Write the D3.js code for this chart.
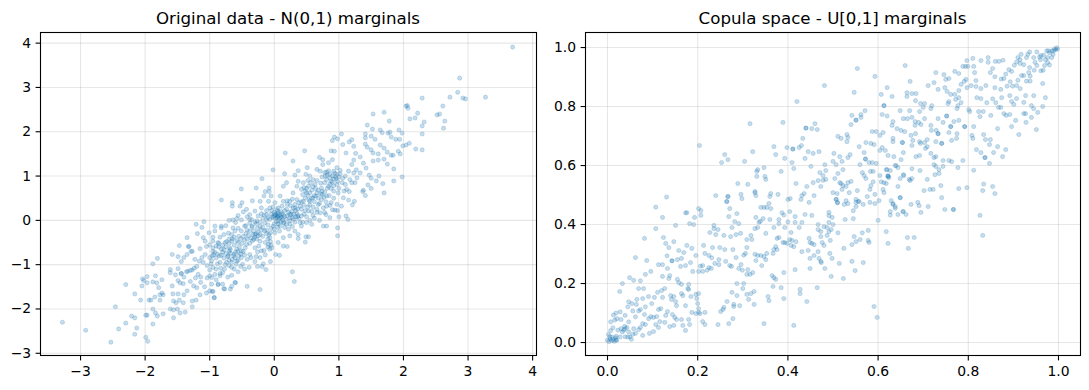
<!DOCTYPE html>
<html>
<head>
<meta charset="utf-8">
<script src="https://cdn.jsdelivr.net/npm/d3@7"></script>
<style>
body { margin: 0; background: #fff; }
text { font-family: "DejaVu Sans", sans-serif; fill: #000; }
</style>
</head>
<body>
<div id="chart-area"></div>
<script>
// Titles and ticks
var titles = ["Original data - N(0,1) marginals", "Copula space - U[0,1] marginals"];
var origXTicks = [-3, -2, -1, 0, 1, 2, 3, 4];
var origYTicks = [-3, -2, -1, 0, 1, 2, 3, 4];
var copulaTicks = [0, 0.2, 0.4, 0.6, 0.8, 1];

// Points, [x, y]
var origPoints = [
[1.04,1.95],[.93,1.88],[.98,1.84],[.90,1.80],[1.20,1.82],[1.16,1.77],[1.06,1.71],[1.23,1.67],[.47,1.57],[.17,1.52],[.88,1.57],[.93,1.56],[1.11,1.52],[1.26,1.51],[.70,1.42],[.75,1.37],[.29,1.34],[1.23,1.36],[.90,1.37],[.84,1.30],[.75,1.26],[1.20,1.26],[.51,1.19],[.97,1.19],[-.02,1.14],[.37,1.12],[.16,1.05],[.32,1.02],[.66,1.15],[.71,1.11],[.81,1.09],[.92,1.11],[1.02,1.13],[1.15,1.11],[1.23,1.07],[.49,1.04],[.55,1.00],[.79,1.00],[.86,1.04],[.97,1.04],[1.28,.96],[-.19,.94],[.37,.88],[.45,.85],[.60,.92],[.81,.92],[.92,.94],[1.17,.92],[1.25,.85],[.19,.85],[.14,.77],[-.51,.71],[-.28,.73],[-.08,.73],[-.14,.65],[-.08,.65],[-.05,.55],[.09,.55],[.35,.77],[.42,.70],[.53,.77],[.63,.81],[.73,.73],[.84,.77],[.97,.81],[1.10,.81],[1.20,.85],[.92,.66],[.99,.62],[1.16,.65],[.29,.62],[.50,.62],[.66,.62],[.60,.51],[.73,.47],[.81,.55],[1.07,.51],[1.15,.46],[1.24,.43],[1.21,.35],
[-.82,.46],[-.65,.40],[-.50,.40],[-.34,.44],[-.22,.43],[-.16,.55],[-.09,.43],[.01,.40],[.14,.43],[.24,.43],[.35,.47],[.45,.43],[.55,.43],[.68,.36],[.81,.32],[.97,.36],[1.04,.32],[-.65,.32],[-.53,.32],[-.43,.25],[-.30,.21],[-.20,.28],[-.07,.28],[.06,.28],[.19,.25],[.32,.28],[.42,.25],[.53,.21],[.66,.25],[.94,.23],[-.48,.19],[-.56,.11],[-.38,.13],[-.12,.13],[.01,.13],[.06,.10],[.11,.06],[.26,.13],[.37,.11],[.60,.11],[.71,.17],[.80,.13],[.86,.06],[1.00,.08],[1.11,.10],[1.14,.02],[-1.09,-.03],[-.70,0],[-.64,.01],[-.58,.04],[-.51,.01],[-.38,.02],[-.27,-.01],[-.07,.02],[.04,.06],[.14,-.05],[.24,-.01],[.40,-.05],[.50,-.05],[.58,-.09],[.76,-.13],[.81,-.13],[.98,-.17],[.98,-.35],
[-.92,-.13],[-.82,-.13],[-.82,-.17],[-.64,-.17],[-.46,-.13],[-.35,-.13],[-.22,-.13],[-.02,-.13],[.09,-.13],[.19,-.09],[.32,-.24],[.42,-.13],[-1.01,-.28],[-.92,-.24],[-.71,-.29],[-.66,-.32],[-.61,-.24],[-.51,-.24],[-.38,-.24],[-.30,-.32],[-.25,-.35],[-.15,-.24],[-.07,-.39],[.01,-.28],[.14,-.39],[.24,-.35],[.37,-.32],[.37,-.41],[.49,-.37],[.53,-.37],[.48,-.49],[-1.10,-.39],[-1.07,-.47],[-.95,-.47],[-.87,-.50],[-.76,-.50],[-.66,-.47],[-.56,-.50],[-.43,-.54],[-.32,-.43],[-.22,-.47],[-.09,-.54],[-.04,-.62],[.06,-.50],[.14,-.58],[.20,-.59],[-1.33,-.59],[-1.15,-.64],[-1.05,-.59],[-.95,-.62],[-.82,-.65],[-.69,-.62],[-.58,-.65],[-.51,-.69],[-.38,-.77],[-.26,-.71],[-.20,-.69],[-.07,-.65],[.02,-.77],[.08,-.79],[-1.29,-.70],[-1.07,-.77],[-.96,-.80],[-.82,-.79],[-.71,-.80],[-.61,-.84],[-.51,-.84],[-.36,-.84],[-1.23,-.88],[-1.10,-.95],[-.97,-.91],[-.84,-.95],[-.74,-.95],[-.59,-.99],[-.49,-.99],[-.39,-1.06],[-.30,-.93],[-.17,-.98],[-.06,-.93],[-.26,-1.04],[-.19,-1.04],[-.13,-1.11],[.28,-1.16],[.31,-1.38],
[-.95,-1.06],[-.77,-1.10],[-.66,-1.06],[-.84,-1.25],[-.66,-1.24],[-.97,-1.29],[-.97,-1.44],[-.87,-1.44],[-.80,-1.44],[-.61,-1.40],[-.66,-1.49],[-.42,-1.49],[-.78,-1.54],[-.22,-1.56],[-.96,-1.60],[-.93,-1.74],
// upper right tail
[3.69,3.91],[2.87,3.21],[2.84,2.89],[2.72,2.78],[2.92,2.76],[2.96,2.74],[3.27,2.78],[2.29,2.76],[2.61,2.58],[2.04,2.58],[2.07,2.53],[2.06,2.59],[2.22,2.42],[2.18,2.31],[2.10,2.29],[2.52,2.38],[2.56,2.40],[2.64,2.24],[2.32,2.22],[2.29,2.13],[2.62,2.08],[2.29,1.95],[1.70,2.44],[1.53,2.40],[1.78,2.24],[1.44,2.15],[1.52,2.06],[1.64,2.04],[1.67,1.98],[1.76,1.97],[1.79,1.99],[1.93,2.04],[1.98,1.97],[1.41,1.95],[1.41,1.86],[1.50,1.90],[1.56,1.83],[1.88,1.83],[1.94,1.83],[1.81,1.88],[2.09,1.74],[2.04,1.70],[1.99,1.68],[2.19,1.61],[2.29,1.59],[1.41,1.72],[1.44,1.65],[1.64,1.70],[1.70,1.63],[1.75,1.54],[1.92,1.56],[1.95,1.50],[1.81,1.47],[1.84,1.47],[1.50,1.59],[1.61,1.50],[1.53,1.52],[1.33,1.43],[1.70,1.38],[1.75,1.27],[1.53,1.34],[1.61,1.36],[1.85,1.16],[1.62,1.00],[1.98,.98],[1.85,.89],[1.70,.62],[1.68,.83],[1.58,.89],[1.41,.56],[1.33,1.07],[1.27,1.14],[1.42,1.18],[1.38,1.29],[1.47,1.02],[1.50,.95],[1.45,.80],[1.38,.68],[1.50,.72],[1.37,.65],
// lower left tail
[-3.28,-2.30],[-2.92,-2.48],[-2.53,-2.75],[-2.41,-2.45],[-2.46,-1.95],[-2.30,-2.32],[-2.30,-1.45],[-2.21,-2.16],[-2.16,-2.20],[-2.13,-2.43],[-2.16,-2.57],[-1.99,-2.64],[-1.96,-2.73],[-1.88,-2.34],[-1.99,-2.14],[-1.97,-2.14],[-1.88,-2.00],[-1.84,-2.09],[-1.81,-2.16],[-1.72,-2.11],[-1.56,-2.20],[-2.16,-1.66],[-2.07,-1.80],[-2.05,-1.48],[-2.04,-1.32],[-2.02,-1.36],[-1.97,-1.27],[-1.97,-1.41],[-1.94,-1.80],[-1.91,-1.80],[-1.88,-1.39],[-1.82,-1.41],[-1.84,-1.25],[-1.88,-.98],[-1.81,-.86],[-1.74,-1.34],[-1.79,-1.52],[-1.85,-1.73],[-1.74,-1.64],[-1.77,-1.68],[-1.72,-1.68],[-1.77,-1.80],[-1.58,-1.48],[-1.57,-1.66],[-1.49,-1.66],[-1.61,-2.00],[-1.56,-2.02],[-1.50,-2.00],[-1.46,-2.09],[-1.38,-2.07],[-1.27,-1.95],[-1.56,-1.82],[-1.52,-1.86],[-1.47,-1.80],[-1.41,-1.86],[-1.27,-1.82],[-1.21,-1.80],[-1.40,-1.68],[-1.35,-1.59],[-1.15,-1.68],[-1.05,-1.64],[-1.00,-1.59],[-.93,-1.75],[-.95,-1.61],[-1.49,-1.36],[-1.46,-1.41],[-1.41,-1.43],[-1.61,-1.11],[-1.61,-1.18],[-1.53,-1.23],[-1.49,-1.09],[-1.44,-1.20],[-1.49,-.82],[-1.58,-.77],[-1.44,-.93],[-1.40,-.84],[-1.47,-.57],[-1.35,-.39],[-1.32,-.59],[-1.27,-.70],[-1.35,-.77],[-1.21,-.09],[-1.12,-.16],[-1.19,-.30],[-.60,-1.41],[-.68,-1.55],[-.77,-1.55],[-.87,-1.45],
// dense band along the diagonal
[0,.10],[.03,.12],[.05,.08],[.02,.05],[.08,.04],[.06,-.02],[.1,-.03],[.13,.02],[.03,-.03],[.09,.12],[.15,-.06],[.12,.15],[.18,.02],[.16,.09],[-.03,.08],[-.05,.14],[0,.18],[.04,.24],[.1,.2],[.16,.22],[.22,.18],[.27,.2],[.3,.14],[.33,.08],[.28,.06],[.3,.02],[.24,.05],[.35,.16],[.38,.04],[.33,.22],[.29,.28],[.25,.33],[.2,.36],[.32,.36],[.38,.4],[.55,.35],[.58,.5],[.62,.42],[.65,.55],[.6,.3],[.7,.38],[.74,.58],[.77,.52],[.68,.68],[.64,.72],[.58,.68],[.52,.56],[.48,.66],[.55,.62],[.44,.58],[.5,.72],[.46,.74],[.56,.85],[.6,.76],[.52,.9],[.82,1.02],[.86,.96],[.9,1],[.94,1.06],[.95,.98],[.88,.88],[1,.98],[1.02,1.05],[1.06,.95],[.84,1.12],[.78,.85],[.98,.88],[1.05,.85],[1.12,.7],[.88,.72],[.78,1.08],[.74,.98],[1.1,1],[.92,.78],[.85,.56],[1.08,.66],[1,.72],
[-.32,-.24],[-.28,-.3],[-.25,-.27],[-.3,-.38],[-.27,-.42],[-.22,-.32],[-.33,-.32],[-.36,-.4],[-.4,-.34],[-.2,-.22],[-.18,-.36],[-.12,-.3],[-.08,-.32],[-.1,-.42],[-.06,-.48],[-.05,-.56],[-.1,-.6],[-.14,-.5],[-.42,-.22],[-.44,-.3],[-.34,-.15],[-.28,-.08],[-.38,-.06],[-.46,-.44],[-.5,-.52],[-.72,-.82],[-.68,-.74],[-.65,-.88],[-.63,-.8],[-.6,-.72],[-.58,-.92],[-.7,-.7],[-.75,-.75],[-.78,-.85],[-.55,-.8],[-.52,-.76],[-.66,-.95],[-.8,-.72],[-.85,-.8],[-.9,-.85],[-.92,-.72],[-.75,-.6],[-.7,-.52],[-.62,-.56],[-.54,-.6],[-.48,-.7],[-.45,-.62],[-.88,-.98],[-.83,-1.08],[-.95,-.7],[-.86,-.6],[-.98,-.98],[-.7,-1.02],[-.62,-1.1],[-.8,-1.18],[-.84,-1.2],[-1.34,-1.15],[-1.3,-1.13],[-1.27,-1.12],[-1.36,-1.16],[-1.24,-1.08],[-1.2,-1.04],[-1.14,-1.28],[-1.18,-1.22],[-1.22,-1.3],[-1.3,-1.38],[-1.14,-1.4],[-1,-1.25],[-1.04,-1.3],[-.92,-1.22],[-1.4,-1.28],[-1.44,-1.2],[-1.25,-1.48],[-1.2,-1.52],[-1.08,-1.5],[-.9,-1.34],
[-.25,.1],[-.18,.05],[-.12,.02],[-.15,-.06],[-.1,-.1],[-.05,-.18],[0,-.2],[.05,-.15],[.08,-.24],[.22,-.2],[.28,-.14],[.44,-.04],[.55,0],[.5,.08],[.46,.14],[.62,.05],[.7,0],[.66,.18],[.58,.2],[.76,.28],[.88,.4],[.92,.5],[.78,.18],[.98,.22],[-.35,.02],[-.42,.08],[-.2,.15],[-.12,.22],[-.02,.3],[-.44,-.12],[-.56,-.18],[-.6,-.05],[-.75,-.12],[-.78,-.32],[-.84,-.38],[-1,-.55],[-.95,-.38],[-.65,-.42],[-.55,-.36],[.12,.32],[.2,.44],[.28,.48],
// second pass over the darkest parts of the band
[-.02,.06],[.02,.14],[.06,.16],[.1,.08],[.14,.12],[.2,.1],[.24,.14],[.06,.2],[-.04,.22],[-.1,.06],[-.16,.12],[-.22,-.04],[-.3,-.04],[-.26,-.18],[-.18,-.16],[-.12,-.22],[-.06,-.28],[.0,-.08],[.06,-.08],[.16,-.16],[.24,-.08],[.32,-.04],[.36,.08],[.42,.1],[.48,.22],[.52,.3],[.46,.34],[.4,.32],[.36,.26],[.42,.42],[.48,.5],[.54,.46],[.62,.56],[.68,.5],[.72,.6],[.78,.64],[.82,.72],[.86,.82],[.9,.86],[.96,.94],[.72,.84],[.66,.9],[.74,.66],[.8,.42],[.86,.34],[.9,.24],
[-.34,-.46],[-.38,-.52],[-.42,-.42],[-.48,-.36],[-.52,-.42],[-.58,-.46],[-.62,-.38],[-.7,-.42],[-.74,-.48],[-.8,-.56],[-.86,-.52],[-.9,-.58],[-.94,-.78],[-.88,-.76],[-.78,-.66],[-.68,-.66],[-.62,-.76],[-.56,-.7],[-.46,-.78],[-.42,-.88],[-.3,-.62],[-.24,-.58],[-.16,-.68],[-.14,-.78],[-.22,-.84],[-.28,-.82],[-.56,-.9],[-.7,-.9],[-.76,-1.0],[-.9,-1.1],[-1.0,-1.12],[-1.04,-1.02],[-1.0,-.84],[-1.12,-.84],[-1.16,-.92],[-.52,-1.04],[-.46,-1.1],[-.56,-1.16],[-.72,-1.28]
];

// Points, [u, v]
var copulaPoints = [
[0,.008],[.003,.003],[.006,.012],[.009,.006],[.012,.01],[.015,.004],[.005,.02],[.01,.018],[.02,.008],[.018,.016],[.002,.027],[.007,.04],[.012,.05],[.007,.07],[.013,.093],[.016,.076],[.019,.10],[.021,.081],[.028,.104],[.027,.173],[.033,.20],[.03,.078],[.039,.092],[.023,.042],[.03,.047],[.036,.042],[.039,.047],[.043,.051],[.038,.055],[.033,.036],[.028,.019],[.039,.019],[.019,.008],[.05,.019],[.053,.011],[.056,.028],[.062,.031],[.058,.047],[.047,.07],[.047,.138],[.045,.121],[.054,.132],[.056,.107],[.062,.087],[.065,.146],[.064,.129],[.069,.107],[.073,.112],[.078,.149],[.084,.121],[.082,.353],[.062,.288],[.049,.22],[.058,.211],[.073,.209],[.069,.183],[.08,.183],[.084,.231],[.087,.278],[.096,.241],[.107,.459],[.122,.424],[.131,.493],[.107,.386],[.151,.397],[.124,.356],[.129,.336],[.136,.322],[.147,.342],[.158,.312],[.169,.305],[.176,.329],[.187,.319],[.113,.264],[.122,.264],[.133,.251],[.132,.294],[.143,.277],[.143,.277],[.155,.281],[.164,.285],[.162,.258],[.184,.271],[.173,.261],[.189,.241],[.196,.295],[.173,.44],[.176,.44],[.202,.454],[.207,.447],[.207,.431],[.193,.424],[.182,.403],[.191,.40],
[.24,.498],[.267,.495],[.265,.478],[.271,.454],[.269,.427],[.287,.437],[.282,.41],[.291,.403],[.276,.39],[.236,.397],[.236,.386],[.227,.373],[.24,.366],[.245,.383],[.258,.363],[.273,.359],[.285,.366],[.295,.37],[.213,.329],[.233,.322],[.249,.322],[.26,.315],[.278,.315],[.216,.302],[.225,.295],[.231,.287],[.247,.281],[.238,.268],[.247,.264],[.262,.275],[.285,.288],[.206,.259],[.211,.261],[.225,.254],[.202,.241],[.211,.241],[.221,.245],[.23,.251],[.271,.261],[.275,.258],[.291,.251],[.296,.264],[.299,.245],[.306,.302],[.302,.296],[.309,.322],[.309,.349],[.318,.363],[.32,.349],[.336,.408],[.339,.411],[.345,.42],[.327,.386],[.333,.39],[.34,.458],[.347,.458],[.353,.458],[.358,.471],[.362,.454],[.329,.424],[.351,.37],[.369,.39],[.36,.417],[.38,.417],[.38,.403],[.387,.44],[.391,.432],[.4,.409],[.404,.444],[.393,.39],[.416,.407],[.425,.39],[.416,.427],[.438,.434],[.431,.407],[.453,.431],[.407,.373],[.38,.356],[.376,.353],[.389,.339],[.393,.339],[.398,.336],[.404,.349],[.409,.346],[.418,.342],[.407,.329],[.413,.325],[.431,.308],[.445,.312],[.447,.353],[.449,.339],[.453,.336],[.467,.383],[.473,.359],[.476,.339],[.48,.329],[.467,.308],[.458,.295],[.449,.285],[.469,.285],[.473,.275],[.449,.251],[.482,.251],[.416,.247],[.391,.237],
[.369,.315],[.376,.315],[.373,.325],[.367,.302],[.353,.302],[.34,.295],[.333,.295],[.327,.299],[.347,.291],[.351,.281],[.329,.278],[.342,.261],[.311,.247],[.322,.237],[.309,.231],[.316,.231],[.365,.227],[.369,.22],[.373,.214],[.367,.19],[.385,.186],[.427,.18],[.427,.166],[.442,.139],[.465,.186],[.391,.149],[.356,.156],[.358,.142],[.325,.173],[.318,.166],[.309,.163],[.313,.146],[.325,.129],[.302,.20],[.3,.183],[.287,.2],[.276,.17],[.287,.159],[.28,.129],[.28,.122],[.293,.125],[.265,.139],[.258,.119],[.256,.112],[.251,.105],[.278,.081],[.269,.064],[.245,.061],[.347,.064],[.413,.058],[.216,.061],[.211,.071],[.216,.102],[.202,.102],[.196,.098],[.205,.098],[.202,.115],[.187,.102],[.173,.125],[.153,.125],[.151,.139],[.164,.166],[.167,.159],[.185,.156],[.196,.163],[.198,.149],[.2,.132],[.202,.166],[.18,.18],[.18,.197],[.178,.183],[.164,.197],[.158,.203],[.155,.214],[.138,.227],[.136,.217],[.122,.224],[.127,.183],[.12,.176],[.111,.17],[.122,.153],[.14,.159],[.147,.156],[.142,.146],[.091,.156],[.104,.153],[.098,.132],[.113,.112],[.118,.115],[.133,.105],[.129,.092],[.144,.095],[.149,.085],[.153,.078],[.18,.078],[.164,.078],[.182,.061],[.167,.058],[.173,.041],[.147,.058],[.138,.054],[.127,.068],[.116,.071],[.107,.061],[.091,.081],[.096,.088],[.102,.085],[.109,.088],[.082,.095],[.078,.064],[.084,.061],[.073,.051],[.069,.044],[.102,.037],[.093,.031],[.113,.051],[.078,.024],[.047,.036],[.045,.019],[.019,.021],
// middle of the band
[.42,.817],[.316,.742],[.389,.746],[.44,.727],[.44,.727],[.46,.742],[.453,.725],[.465,.722],[.433,.692],[.204,.668],[.26,.637],[.253,.61],[.267,.62],[.322,.647],[.304,.614],[.369,.664],[.373,.637],[.398,.661],[.411,.656],[.411,.656],[.425,.661],[.43,.668],[.445,.647],[.456,.641],[.469,.647],[.393,.624],[.409,.61],[.438,.624],[.347,.593],[.333,.586],[.331,.58],[.331,.563],[.349,.563],[.351,.553],[.385,.58],[.413,.59],[.451,.597],[.289,.539],[.311,.536],[.327,.512],[.327,.508],[.329,.498],[.296,.502],[.298,.488],[.267,.495],[.264,.478],
[.378,.502],[.36,.495],[.362,.505],[.4,.485],[.405,.488],[.418,.539],[.442,.529],[.436,.505],[.431,.498],[.429,.485],[.447,.475],[.458,.498],[.456,.542],[.467,.549],[.473,.529],[.478,.55],[.484,.553],[.471,.576],[.478,.566],[.484,.583],[.482,.603],[.5,.614],[.507,.603],[.502,.641],[.515,.63],[.538,.637],[.533,.627],[.52,.614],[.511,.699],[.518,.692],[.531,.705],[.533,.695],[.531,.681],[.54,.739],[.542,.77],[.551,.754],[.551,.754],[.562,.763],[.562,.773],[.571,.786],[.587,.715],[.596,.715],[.604,.702],[.611,.712],[.609,.773],[.613,.803],[.613,.803],[.558,.664],[.573,.678],[.584,.675],[.591,.671],[.569,.644],[.604,.651],[.616,.651],[.609,.661],[.622,.634],[.635,.63],[.572,.622],[.572,.622],[.56,.603],[.58,.61],[.587,.61],[.596,.607],[.651,.62],[.638,.6],[.644,.593],[.618,.586],[.627,.583],[.565,.576],[.583,.58],[.589,.58],[.569,.566],[.604,.566],[.622,.563],[.622,.563],[.656,.569],[.649,.556],[.669,.553],[.644,.529],[.618,.539],[.613,.542],[.607,.545],[.589,.545],[.573,.556],[.584,.532],[.582,.519],[.611,.519],[.613,.508],[.593,.502],[.576,.495],[.602,.481],[.649,.491],[.649,.491],[.629,.481],[.633,.471],[.638,.461],[.656,.444],[.644,.434],[.627,.444],[.593,.471],[.582,.475],[.567,.468],[.558,.478],[.551,.475],[.551,.461],[.533,.471],[.529,.481],[.525,.468],[.507,.485],[.507,.485],[.5,.508],[.509,.505],[.536,.508],[.554,.515],[.518,.539],[.533,.542],[.54,.546],[.522,.532],[.529,.529],[.52,.519],[.504,.556],[.515,.542],[.522,.586],[.511,.573],
[.491,.441],[.491,.43],[.498,.424],[.491,.407],[.527,.417],[.545,.42],[.545,.447],[.467,.4],[.48,.393],[.487,.39],[.5,.4],[.473,.376],[.491,.376],[.487,.363],[.511,.372],[.458,.332],[.524,.319],[.547,.359],[.551,.342],[.542,.332],[.565,.372],[.578,.38],[.56,.349],[.578,.346],[.58,.339],[.6,.414],[.618,.376],[.622,.336],[.665,.356],[.667,.319],[.542,.275],[.567,.271],[.493,.302],[.498,.285],
// upper right of the band
[.996,.999],[.994,.993],[.991,.995],[.998,.995],[.989,.989],[.985,.989],[.978,.989],[.974,.989],[.98,.982],[.988,.977],[.985,.966],[.976,.966],[.961,.973],[.958,.968],[.967,.974],[.952,.985],[.936,.985],[.932,.977],[.917,.977],[.91,.966],[.915,.959],[.929,.966],[.945,.966],[.96,.959],[.971,.959],[.976,.949],[.98,.941],[.969,.939],[.966,.923],[.961,.921],[.948,.95],[.952,.939],[.936,.932],[.923,.942],[.915,.946],[.907,.951],[.902,.94],[.89,.925],[.883,.91],[.896,.919],[.946,.923],[.934,.915],[.923,.905],[.91,.889],[.918,.905],[.937,.903],[.929,.886],[.937,.886],[.965,.878],[.907,.871],[.898,.869],[.915,.861],[.886,.869],[.893,.884],[.879,.895],[.873,.893],[.877,.957],[.868,.953],[.86,.953],[.844,.966],[.844,.95],[.828,.956],[.81,.963],[.797,.956],[.788,.936],[.794,.936],[.799,.936],[.812,.936],[.854,.929],[.849,.915],[.859,.901],[.814,.915],[.77,.919],[.779,.912],[.728,.915],[.746,.908],[.757,.895],[.75,.892],[.66,.939],[.554,.929],[.593,.902],[.481,.871],[.547,.848],[.607,.841],[.62,.864],[.631,.834],[.664,.847],[.675,.844],[.684,.844],[.664,.834],[.671,.885],[.711,.871],[.724,.881],[.733,.858],[.748,.864],[.753,.851],[.761,.841],[.77,.841],[.779,.854],[.784,.875],[.791,.885],[.795,.892],[.817,.888],[.806,.871],[.797,.864],[.817,.868],[.828,.861],[.839,.871],[.859,.864],[.872,.858],[.854,.826],[.819,.83],[.841,.813],[.828,.827],[.861,.813],[.874,.83],[.892,.837],[.907,.827],[.927,.837],[.945,.837],[.971,.83],[.896,.817],[.901,.807],[.923,.814],[.94,.803],[.965,.8],[.867,.797],[.872,.797],[.879,.776],[.884,.77],[.892,.773],[.923,.776],[.927,.776],[.945,.793],[.954,.78],[.94,.763],[.928,.746],[.905,.753],[.896,.732],[.951,.722],[.912,.705],[.865,.725],[.85,.77],[.833,.783],[.823,.783],[.826,.766],[.801,.79],[.803,.783],[.775,.793],[.777,.803],[.757,.817],[.755,.81],[.784,.813],[.779,.83],[.772,.824],[.719,.803],[.717,.793],[.703,.81],[.694,.81],[.7,.797],[.683,.82],[.649,.786],[.67,.786],[.692,.783],[.62,.768],[.633,.749],[.656,.759],[.665,.759],[.675,.763],[.682,.749],[.69,.746],[.703,.759],[.733,.759],[.752,.768],[.752,.768],[.768,.749],[.779,.753],[.792,.732],[.792,.732],[.761,.732],[.761,.732],[.744,.746],
[.631,.736],[.642,.725],[.651,.719],[.659,.715],[.682,.736],[.695,.739],[.717,.736],[.733,.708],[.733,.708],[.757,.712],[.775,.708],[.812,.732],[.834,.705],[.673,.702],[.683,.708],[.729,.719],[.718,.719],[.633,.692],[.633,.681],[.654,.678],[.654,.678],[.677,.685],[.692,.681],[.694,.675],[.703,.678],[.709,.688],[.728,.681],[.741,.675],[.741,.675],[.763,.685],[.774,.692],[.808,.702],[.81,.692],[.838,.688],[.849,.688],[.847,.671],[.865,.664],[.883,.654],[.876,.63],[.856,.644],[.837,.627],[.837,.627],[.828,.644],[.818,.654],[.847,.607],[.812,.584],[.788,.617],[.777,.593],[.763,.613],[.757,.617],[.744,.597],[.744,.617],[.728,.63],[.724,.627],[.717,.641],[.705,.658],[.709,.664],[.692,.634],[.684,.63],[.656,.644],[.675,.668],[.64,.6],[.62,.586],[.724,.603],[.728,.597],[.675,.589],[.671,.549],[.675,.556],[.693,.583],[.657,.566],[.622,.566],[.624,.559],[.709,.553],[.735,.586],[.726,.569],[.735,.573],[.739,.532],[.779,.522],[.797,.525],[.834,.537],[.854,.529],[.832,.515],[.859,.505],[.741,.491],[.722,.519],[.715,.519],[.702,.515],
// lower right of the band
[.826,.431],[.832,.363],[.767,.451],[.767,.451],[.748,.451],[.711,.461],[.695,.441],[.691,.464],[.688,.475],[.673,.468],[.662,.434],[.655,.444],[.633,.468],[.638,.455],[.627,.432],[.68,.356],[.549,.244],[.523,.217],[.496,.224],[.591,.122],[.598,.085],[.514,.268],[.474,.271],[.494,.346],[.496,.383],[.51,.474],[.51,.474],[.556,.478],[.551,.485]
];

var colour = "#1f77b4";

var svg = d3.select("#chart-area")
    .append("svg")
    .attr("width", 1089)
    .attr("height", 390)
    .style("display", "block");

// Draws one panel. Scales are passed in, the axes come from d3.axis
function drawPanel(points, x, y, xTicks, yTicks, xFormat, yFormat, title) {
    var left = x.range()[0], right = x.range()[1];
    var bottom = y.range()[0], top = y.range()[1];
    var g = svg.append("g").attr("transform", "translate(0.5,0.5)");

    g.selectAll("circle")
        .data(points)
        .enter()
        .append("circle")
        .attr("cx", function (d) { return x(d[0]); })
        .attr("cy", function (d) { return y(d[1]); })
        .attr("r", 2.1)
        .attr("fill", colour)
        .attr("fill-opacity", 0.25)
        .attr("stroke", colour)
        .attr("stroke-opacity", 0.2)
        .attr("stroke-width", 1);

    // grid sits over the points, same as the original
    var xGrid = g.append("g")
        .attr("transform", "translate(0," + bottom + ")")
        .call(d3.axisBottom(x).tickValues(xTicks).tickSize(top - bottom).tickFormat("").offset(0));
    var yGrid = g.append("g")
        .attr("transform", "translate(" + left + ",0)")
        .call(d3.axisLeft(y).tickValues(yTicks).tickSize(left - right).tickFormat("").offset(0));
    [xGrid, yGrid].forEach(function (a) {
        a.select(".domain").remove();
        a.selectAll("line").attr("stroke", "#b0b0b0").attr("stroke-opacity", 0.3).attr("stroke-width", 1.1);
    });

    var xAxis = g.append("g")
        .attr("transform", "translate(0," + bottom + ")")
        .call(d3.axisBottom(x).tickValues(xTicks).tickSize(4.9).tickPadding(5.5).tickFormat(xFormat).offset(0));
    var yAxis = g.append("g")
        .attr("transform", "translate(" + left + ",0)")
        .call(d3.axisLeft(y).tickValues(yTicks).tickSize(4.9).tickPadding(4.5).tickFormat(yFormat).offset(0));
    [xAxis, yAxis].forEach(function (a) {
        a.select(".domain").remove();
        a.selectAll("line").attr("stroke", "#000").attr("stroke-width", 1.1);
        a.selectAll("text").style("font-size", "13.9px").attr("fill", "#000");
    });

    // spines
    g.append("rect")
        .attr("x", left)
        .attr("y", top)
        .attr("width", right - left)
        .attr("height", bottom - top)
        .attr("fill", "none")
        .attr("stroke", "#000")
        .attr("stroke-width", 1.1);

    svg.append("text")
        .attr("x", (left + right) / 2)
        .attr("y", 24)
        .attr("text-anchor", "middle")
        .style("font-size", "16.67px")
        .text(title);
}

var minusInt = function (d) { return String(d).replace("-", "\u2212"); };
var oneDecimal = d3.format(".1f");

var x1 = d3.scaleLinear().domain([-3.62, 4.06]).range([40, 536]);
var y1 = d3.scaleLinear().domain([-3.05, 4.24]).range([355, 32]);
var x2 = d3.scaleLinear().domain([-0.0488, 1.0488]).range([585, 1080]);
var y2 = d3.scaleLinear().domain([-0.044, 1.051]).range([355, 32]);

drawPanel(origPoints, x1, y1, origXTicks, origYTicks, minusInt, minusInt, titles[0]);
drawPanel(copulaPoints, x2, y2, copulaTicks, copulaTicks, oneDecimal, oneDecimal, titles[1]);
</script>
</body>
</html>
